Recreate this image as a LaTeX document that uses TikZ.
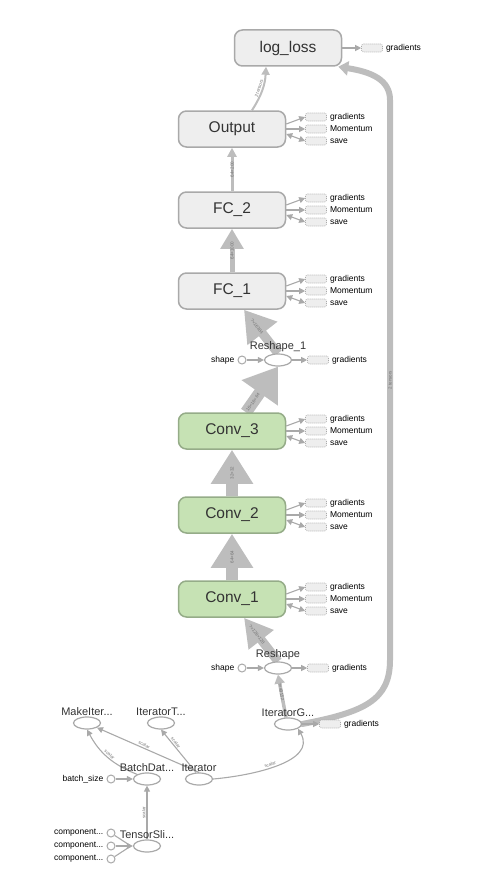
\documentclass[tikz,border=0pt]{standalone}
\usepackage{fontspec}
\setmainfont{Liberation Sans}
\usetikzlibrary{arrows.meta}
\usetikzlibrary{shapes.geometric}
\usetikzlibrary{positioning}
\usetikzlibrary{backgrounds}

\definecolor{nodegray}{HTML}{EEEEEE}
\definecolor{edgegray}{HTML}{BDBDBD}
\definecolor{linegray}{HTML}{A9A9A9}
\definecolor{convgreen}{HTML}{C6E2B4}
\definecolor{convline}{HTML}{95AC88}
\definecolor{txt}{HTML}{333333}

\begin{document}
\begin{tikzpicture}[x=1pt, y=-1pt,
    bignode/.style={draw=linegray, line width=1.5pt, fill=nodegray, rounded corners=8pt, minimum width=107pt, minimum height=36pt, inner sep=0pt, font=\fontsize{15.5}{15.5}\selectfont, text=txt},
    convnode/.style={bignode, fill=convgreen, draw=convline},
    opnode/.style={ellipse, draw=linegray, line width=1.2pt, fill=white, minimum width=27pt, minimum height=12pt, inner sep=0pt},
    oplabel/.style={font=\fontsize{11}{11}\selectfont, text=txt, inner sep=1pt},
    auxbox/.style={draw=linegray, dashed, dash pattern=on 1pt off 1pt, line width=0.6pt, fill=nodegray, rounded corners=2pt, minimum width=21pt, minimum height=8pt, inner sep=0pt},
    smalltext/.style={font=\fontsize{8.5}{8.5}\selectfont, text=black, inner sep=2pt},
    constnode/.style={circle, draw=linegray, line width=1pt, fill=white, minimum size=8pt, inner sep=0pt},
    ctrl/.style={draw=linegray, line width=1.1pt, -{Triangle[width=6pt,length=6pt]}},
    elabel/.style={font=\fontsize{4.5}{4.5}\selectfont, text=black!55, sloped, inner sep=0pt}
]
\useasboundingbox (0,0) rectangle (486,883);

% layers
\node[bignode] (log) at (288,48) {log\_loss};
\node[bignode] (out) at (232,129) {Output};
\node[bignode] (fc2) at (232,210) {FC\_2};
\node[bignode] (fc1) at (232,291) {FC\_1};
\node[convnode] (c3) at (232,431) {Conv\_3};
\node[convnode] (c2) at (232,515) {Conv\_2};
\node[convnode] (c1) at (232,599) {Conv\_1};

\node[auxbox] (log-g) at (372,48) {};
\node[smalltext, right=1pt of log-g] {gradients};
\draw[ctrl] (log) -- (log-g);

\foreach \n/\y in {out/129, fc2/210, fc1/291, c3/431, c2/515, c1/599} {
    \node[auxbox] (\n-g) at (316,\y-12) {};
    \node[auxbox] (\n-m) at (316,\y) {};
    \node[auxbox] (\n-s) at (316,\y+12) {};
    \node[smalltext, right=1pt of \n-g] {gradients};
    \node[smalltext, right=1pt of \n-m] {Momentum};
    \node[smalltext, right=1pt of \n-s] {save};
    \draw[ctrl] ([yshift=5pt]\n.east) -- (\n-g.west);
    \draw[ctrl] (\n.east) -- (\n-m.west);
    \draw[ctrl, {Triangle[width=6pt,length=6pt]}-{Triangle[width=6pt,length=6pt]}] ([yshift=-5pt]\n.east) -- (\n-s.west);
}

% reshape ops
\node[opnode] (rs1) at (278,360) {};
\node[oplabel, above=0pt of rs1] {Reshape\_1};
\node[constnode] (rs1-shape) at (242,360) {};
\node[smalltext, left=1pt of rs1-shape] {shape};
\node[auxbox] (rs1-g) at (318,360) {};
\node[smalltext, right=1pt of rs1-g] {gradients};
\draw[ctrl] (rs1-shape) -- (rs1);
\draw[ctrl] (rs1) -- (rs1-g);

\node[opnode] (rs) at (278,668) {};
\node[oplabel, above=0pt of rs] {Reshape};
\node[constnode] (rs-shape) at (242,668) {};
\node[smalltext, left=1pt of rs-shape] {shape};
\node[auxbox] (rs-g) at (318,668) {};
\node[smalltext, right=1pt of rs-g] {gradients};
\draw[ctrl] (rs-shape) -- (rs);
\draw[ctrl] (rs) -- (rs-g);

% input pipeline
\node[opnode] (itg) at (288,724) {};
\node[oplabel, above=0pt of itg] {IteratorG...};
\node[auxbox] (itg-g) at (330,724) {};
\node[smalltext, right=1pt of itg-g] {gradients};
\draw[ctrl] (itg) -- (itg-g);

\node[opnode] (mk) at (87,723) {};
\node[oplabel, above=0pt of mk] {MakeIter...};
\node[opnode] (itt) at (161,723) {};
\node[oplabel, above=0pt of itt] {IteratorT...};
\node[opnode] (bd) at (147,779) {};
\node[oplabel, above=0pt of bd] {BatchDat...};
\node[opnode] (it) at (199,779) {};
\node[oplabel, above=0pt of it] {Iterator};
\node[constnode] (bsz) at (111,779) {};
\node[smalltext, left=1pt of bsz] {batch\_size};
\node[opnode] (ts) at (147,846) {};
\node[oplabel, above=0pt of ts] {TensorSli...};
\node[constnode] (cp1) at (111,833) {};
\node[constnode] (cp2) at (111,846) {};
\node[constnode] (cp3) at (111,859) {};
\node[smalltext, left=1pt of cp1] {component...};
\node[smalltext, left=1pt of cp2] {component...};
\node[smalltext, left=1pt of cp3] {component...};
\coordinate (tsin) at ([xshift=-2pt]ts.west);

\begin{scope}[on background layer]
    % data flow
    \draw[draw=edgegray, line width=2pt, -{Triangle[width=8pt,length=8pt]}] ([xshift=20pt]out.north) to[bend right=15] node[elabel, above=1pt] {2 tensors} ([xshift=-22pt]log.south);
    \draw[draw=edgegray, line width=3pt, -{Triangle[width=9pt,length=9pt]}] (fc2) -- node[elabel] {64×200} (out);
    \draw[draw=edgegray, line width=5pt, -{Triangle[width=22pt,length=20pt]}] (fc1) -- node[elabel] {64×1000} (fc2);
    \draw[draw=edgegray, line width=9pt, -{Triangle[width=36pt,length=30pt]}] (rs1.north) -- node[elabel, pos=0.62] {?×16384} ([xshift=12pt]fc1.south);
    \draw[draw=edgegray, line width=12pt, -{Triangle[width=42pt,length=32pt]}] ([xshift=14pt]c3.north) -- node[elabel, pos=0.22] {16×16×64} (rs1.south);
    \draw[draw=edgegray, line width=12pt, -{Triangle[width=40pt,length=34pt]}] (c2) -- node[elabel] {32×32} (c3);
    \draw[draw=edgegray, line width=12pt, -{Triangle[width=40pt,length=34pt]}] (c1) -- node[elabel] {64×64} (c2);
    \draw[draw=edgegray, line width=9pt, -{Triangle[width=30pt,length=28pt]}] (rs.north) -- node[elabel, pos=0.62] {?×128×128} ([xshift=12pt]c1.south);
    \draw[draw=edgegray, line width=3.5pt, -{Triangle[width=10pt,length=9pt]}] ([xshift=-2pt]itg.north) -- node[elabel, pos=0.6] {?×49152} (rs.south);
    \draw[draw=edgegray, line width=6pt, line cap=round, -{Triangle[width=14pt,length=10pt]}] (itg.east) .. controls (365,712) and (390,700) .. (390,660) -- node[elabel, pos=0.5] {2 tensors} (390,100) .. controls (390,80) and (372,72) .. ([xshift=-4pt]log.south east);
    % pipeline
    \draw[ctrl] (it.north) -- node[elabel, above=1pt, pos=0.55] {scalar} (mk.south east);
    \draw[ctrl] (bd.north west) to[bend left=20] node[elabel, above=1pt] {scalar} (mk.south);
    \draw[ctrl] ([xshift=-3pt]it.north) -- node[elabel, above=1pt, pos=0.65] {scalar} (itt.south);
    \draw[ctrl] (it.east) to[out=5, in=-60] node[elabel, above=1pt, pos=0.45] {scalar} (itg.south east);
    \draw[ctrl] (ts.north) -- node[elabel, above=1pt] {scalar} (bd.south);
    \draw[ctrl] (bsz) -- (bd);
    \draw[draw=linegray, line width=1.1pt] (cp1) -- (tsin) (cp3) -- (tsin);
    \draw[ctrl] (cp2) -- (ts.west);
\end{scope}
\end{tikzpicture}
\end{document}
